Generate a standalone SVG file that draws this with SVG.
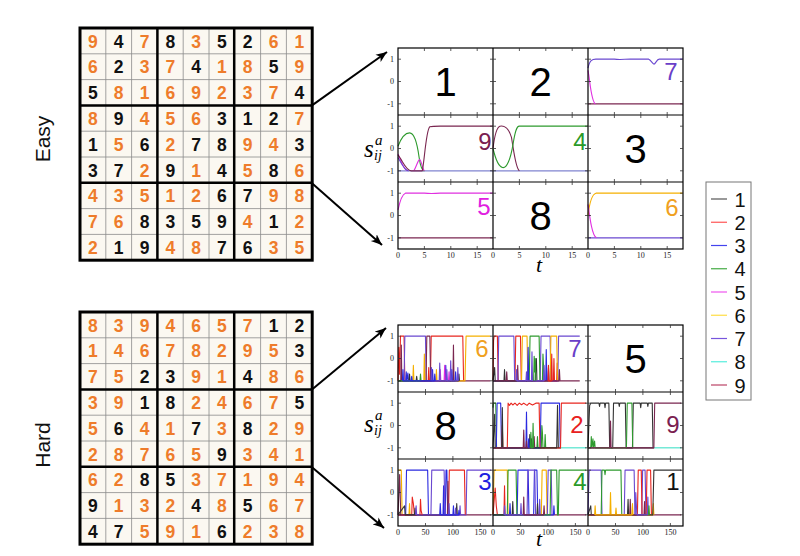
<svg xmlns="http://www.w3.org/2000/svg" width="800" height="556" viewBox="0 0 800 556">
<style>
.d{font-family:"Liberation Sans",Arial,sans-serif;font-weight:bold;font-size:17.5px;text-anchor:middle;fill:#ee7c2b}
.k{fill:#111}
.thin{stroke:#8a8a8a;stroke-width:0.8;fill:none}
.thick{stroke:#000;stroke-width:2.5;fill:none}
.side{font-family:"Liberation Sans",Arial,sans-serif;font-size:21px;text-anchor:middle;fill:#111}
.fr{fill:none;stroke:#000;stroke-width:1.2}
.tk{fill:none;stroke:#333;stroke-width:0.8}
.tl{font-family:"Liberation Serif","Times New Roman",serif;font-size:8px;fill:#222}
.ty{text-anchor:end}
.tx{text-anchor:middle}
.tr path{fill:none;stroke-width:1.1;vector-effect:non-scaling-stroke;stroke-linejoin:round}
.c1{stroke:#333}.c2{stroke:#e8261f}.c3{stroke:#2a2ae0}.c4{stroke:#2e9a2e}.c5{stroke:#e030e0}.c6{stroke:#f5b000}.c7{stroke:#6a48d0}.c8{stroke:#40e0c8}.c9{stroke:#7a2650}.cb{stroke:#8084d0}
.big{font-family:"Liberation Sans",Arial,sans-serif;font-size:40px;text-anchor:middle;fill:#000}
.lb{font-family:"Liberation Sans",Arial,sans-serif;font-size:24px;text-anchor:middle}
.ax{font-family:"Liberation Serif","Times New Roman",serif;font-style:italic;fill:#000}
.lg{font-family:"Liberation Sans",Arial,sans-serif;font-size:20px;fill:#111}
.ll{stroke-width:1.2}
</style>
<defs>
<marker id="ah" markerUnits="userSpaceOnUse" markerWidth="12" markerHeight="10" refX="11" refY="5" orient="auto"><path d="M0,0.5 L11,5 L0,9.5 L3,5 z" fill="#000"/></marker>
<g id="sg">
<rect x="80" y="0" width="232.2" height="232.2" fill="#fbf8f1"/>
<path class="thin" d="M105.8,0V232.2M131.6,0V232.2M183.2,0V232.2M209,0V232.2M260.6,0V232.2M286.4,0V232.2M80,25.8H312.2M80,51.6H312.2M80,103.2H312.2M80,129H312.2M80,180.6H312.2M80,206.4H312.2"/>
<path class="thick" d="M157.4,0V232.2M234.2,0V232.2M80,77.4H312.2M80,154.8H312.2"/>
<rect x="80" y="0" width="232.2" height="232.2" fill="none" stroke="#000" stroke-width="3"/>
</g>
</defs>
<rect width="800" height="556" fill="#fff"/>

<text class="side" transform="translate(50,139) rotate(-90)">Easy</text>
<text class="side" transform="translate(50,445) rotate(-90)">Hard</text>

<g id="easy-sudoku">
<use href="#sg" y="28"/>
<g class="d">
<text x="92.9 118.7 144.5 170.3 196.1 221.9 247.7 273.5 299.3" y="47.6">9<tspan class="k">4</tspan>7<tspan class="k">8</tspan>3<tspan class="k">5</tspan><tspan class="k">2</tspan>61</text>
<text x="92.9 118.7 144.5 170.3 196.1 221.9 247.7 273.5 299.3" y="73.4">6<tspan class="k">2</tspan>37<tspan class="k">4</tspan>18<tspan class="k">5</tspan>9</text>
<text x="92.9 118.7 144.5 170.3 196.1 221.9 247.7 273.5 299.3" y="99.2"><tspan class="k">5</tspan>8169237<tspan class="k">4</tspan></text>
<text x="92.9 118.7 144.5 170.3 196.1 221.9 247.7 273.5 299.3" y="125">8<tspan class="k">9</tspan>456<tspan class="k">3</tspan><tspan class="k">1</tspan><tspan class="k">2</tspan>7</text>
<text x="92.9 118.7 144.5 170.3 196.1 221.9 247.7 273.5 299.3" y="150.8"><tspan class="k">1</tspan>5<tspan class="k">6</tspan>2<tspan class="k">7</tspan><tspan class="k">8</tspan>94<tspan class="k">3</tspan></text>
<text x="92.9 118.7 144.5 170.3 196.1 221.9 247.7 273.5 299.3" y="176.6"><tspan class="k">3</tspan><tspan class="k">7</tspan>2<tspan class="k">9</tspan>1<tspan class="k">4</tspan>5<tspan class="k">8</tspan>6</text>
<text x="92.9 118.7 144.5 170.3 196.1 221.9 247.7 273.5 299.3" y="202.4">43512<tspan class="k">6</tspan><tspan class="k">7</tspan>98</text>
<text x="92.9 118.7 144.5 170.3 196.1 221.9 247.7 273.5 299.3" y="228.2">76<tspan class="k">8</tspan><tspan class="k">3</tspan><tspan class="k">5</tspan><tspan class="k">9</tspan>4<tspan class="k">1</tspan>2</text>
<text x="92.9 118.7 144.5 170.3 196.1 221.9 247.7 273.5 299.3" y="254">2<tspan class="k">1</tspan><tspan class="k">9</tspan>48<tspan class="k">7</tspan><tspan class="k">6</tspan>35</text>
</g>
</g>

<g id="hard-sudoku">
<use href="#sg" y="312"/>
<g class="d">
<text x="92.9 118.7 144.5 170.3 196.1 221.9 247.7 273.5 299.3" y="331.6">8394657<tspan class="k">1</tspan><tspan class="k">2</tspan></text>
<text x="92.9 118.7 144.5 170.3 196.1 221.9 247.7 273.5 299.3" y="357.4">14678295<tspan class="k">3</tspan></text>
<text x="92.9 118.7 144.5 170.3 196.1 221.9 247.7 273.5 299.3" y="383.2">75<tspan class="k">2</tspan><tspan class="k">3</tspan>91<tspan class="k">4</tspan>86</text>
<text x="92.9 118.7 144.5 170.3 196.1 221.9 247.7 273.5 299.3" y="409">39<tspan class="k">1</tspan><tspan class="k">8</tspan>2467<tspan class="k">5</tspan></text>
<text x="92.9 118.7 144.5 170.3 196.1 221.9 247.7 273.5 299.3" y="434.8">5<tspan class="k">6</tspan>41<tspan class="k">7</tspan>3<tspan class="k">8</tspan>29</text>
<text x="92.9 118.7 144.5 170.3 196.1 221.9 247.7 273.5 299.3" y="460.6">28765<tspan class="k">9</tspan>341</text>
<text x="92.9 118.7 144.5 170.3 196.1 221.9 247.7 273.5 299.3" y="486.4">62<tspan class="k">8</tspan><tspan class="k">5</tspan>37194</text>
<text x="92.9 118.7 144.5 170.3 196.1 221.9 247.7 273.5 299.3" y="512.2"><tspan class="k">9</tspan>132<tspan class="k">4</tspan>8<tspan class="k">5</tspan>67</text>
<text x="92.9 118.7 144.5 170.3 196.1 221.9 247.7 273.5 299.3" y="538"><tspan class="k">4</tspan><tspan class="k">7</tspan>591<tspan class="k">6</tspan>238</text>
</g>
</g>

<g id="easy-plots">
<g class="tr">
<g transform="translate(588,81.5) scale(5.278,-22.33)">
<path class="c9" d="M0,-1 L18,-1"/>
<path class="c7" d="M0,0.6 C0.3,0.95 0.8,1 1.5,1 L5,1 C6,0.97 7,1 8,1 L11.5,1 C12,0.95 12.2,0.78 12.5,0.78 C12.8,0.78 13,1 13.5,1 L18,1"/>
<path class="c5" d="M0,0.5 C0.4,0 0.6,-0.9 1.4,-1"/>
</g>
<g transform="translate(398,148.5) scale(5.278,-22.33)">
<path class="cb" d="M0,-1 L18,-1"/>
<path class="c4" d="M0,0.1 C0.8,0.6 1.5,0.7 2.2,0.7 C3,0.7 3.6,0.3 4,-0.4 C4.3,-0.9 4.6,-1 5,-1"/>
<path class="c5" d="M0,-0.25 C0.5,-0.5 1,-0.95 1.8,-1 M3,-1 C3.5,-0.8 3.8,-0.5 4.1,-0.5 C4.4,-0.5 4.6,-0.9 5,-1"/>
<path class="c7" d="M0,-0.4 C0.5,-0.6 1.2,-1 2,-1"/>
<path class="c9" d="M0,-0.3 C0.8,-0.5 1.5,-1 2.5,-1 L4.6,-1 C5,-0.6 5.3,0.8 6,0.97 C6.5,1 7,1 8,1 L18,1"/>
</g>
<g transform="translate(493,148.5) scale(5.278,-22.33)">
<path class="cb" d="M0,-1 L18,-1"/>
<path class="c9" d="M0,0 C0.3,0.6 0.7,0.95 1.3,1 C2.3,1.05 3,0.9 3.5,0.5 C4,-0.2 4.3,-0.9 5,-1"/>
<path class="c4" d="M0,0 C0.5,-0.5 1,-0.8 1.8,-0.85 C2.6,-0.9 3.3,-0.5 3.8,0.2 C4.2,0.8 4.5,1 5,1 L18,1"/>
</g>
<g transform="translate(398,215.5) scale(5.278,-22.33)">
<path class="c9" d="M0,-1 L18,-1"/>
<path class="c5" d="M0,0.25 C0.4,0.7 0.8,0.95 1.4,1 L5,1 C6,0.97 7,0.98 8,1 L18,1"/>
</g>
<g transform="translate(588,215.5) scale(5.278,-22.33)">
<path class="c7" d="M0,-1 L18,-1"/>
<path class="c6" d="M0,0 C0.3,0.6 0.7,0.95 1.5,1 L18,1"/>
<path class="c5" d="M0,0.5 C0.4,-0.2 0.8,-0.9 1.6,-1"/>
</g>
</g>
<rect class="fr" x="398" y="48" width="285" height="201"/>
<path class="fr" d="M493,48V249M588,48V249M398,115H683M398,182H683"/>
<path class="tk" d="M424.4,48v3M424.4,112v6M424.4,179v6M424.4,246v3M450.8,48v3M450.8,112v6M450.8,179v6M450.8,246v3M477.2,48v3M477.2,112v6M477.2,179v6M477.2,246v3M519.4,48v3M519.4,112v6M519.4,179v6M519.4,246v3M545.8,48v3M545.8,112v6M545.8,179v6M545.8,246v3M572.2,48v3M572.2,112v6M572.2,179v6M572.2,246v3M614.4,48v3M614.4,112v6M614.4,179v6M614.4,246v3M640.8,48v3M640.8,112v6M640.8,179v6M640.8,246v3M667.2,48v3M667.2,112v6M667.2,179v6M667.2,246v3
M398,59.2h3M490,59.2h6M585,59.2h6M680,59.2h3M398,81.5h3M490,81.5h6M585,81.5h6M680,81.5h3M398,103.8h3M490,103.8h6M585,103.8h6M680,103.8h3M398,126.2h3M490,126.2h6M585,126.2h6M680,126.2h3M398,148.5h3M490,148.5h6M585,148.5h6M680,148.5h3M398,170.8h3M490,170.8h6M585,170.8h6M680,170.8h3M398,193.2h3M490,193.2h6M585,193.2h6M680,193.2h3M398,215.5h3M490,215.5h6M585,215.5h6M680,215.5h3M398,237.8h3M490,237.8h6M585,237.8h6M680,237.8h3"/>
<g class="tl ty">
<text x="394" y="62">1</text><text x="394" y="84.3">0</text><text x="394" y="106.6">-1</text>
<text x="394" y="129">1</text><text x="394" y="151.3">0</text><text x="394" y="173.6">-1</text>
<text x="394" y="196">1</text><text x="394" y="218.3">0</text><text x="394" y="240.6">-1</text>
</g>
<g class="tl tx">
<text x="398" y="257.5">0</text><text x="424.4" y="257.5">5</text><text x="450.8" y="257.5">10</text><text x="477.2" y="257.5">15</text>
<text x="493" y="257.5">0</text><text x="519.4" y="257.5">5</text><text x="545.8" y="257.5">10</text><text x="572.2" y="257.5">15</text>
<text x="588" y="257.5">0</text><text x="614.4" y="257.5">5</text><text x="640.8" y="257.5">10</text><text x="667.2" y="257.5">15</text>
</g>
<text class="big" x="445.5" y="95.8">1</text>
<text class="big" x="540.5" y="95.8">2</text>
<text class="big" x="635.5" y="162.8">3</text>
<text class="big" x="540.5" y="229.8">8</text>
<text class="lb" x="671" y="80" fill="#6a3fc8">7</text>
<text class="lb" x="485" y="150" fill="#7a2050">9</text>
<text class="lb" x="580" y="150" fill="#2a9a2a">4</text>
<text class="lb" x="484" y="215" fill="#e020e0">5</text>
<text class="lb" x="672" y="216" fill="#f0a020">6</text>
<text class="ax" x="364" y="157" font-size="25">s</text>
<text class="ax" x="375" y="145" font-size="15">a</text>
<text class="ax" x="374" y="160" font-size="14">ij</text>
<text class="ax" x="536" y="272" font-size="22">t</text>
</g>

<g id="hard-plots">
<g class="tr">
<g transform="translate(398,358.5) scale(0.549,-22.33)">
<path class="c9" d="M0,-1 L168,-1"/>
<path class="c2" d="M0,-1 L1.5,0.5 L3,-0.7 L4.5,1 L11,1 L12.5,-1 L55,-1 L56,-0.4 L57,-1 L59,-1 L60.5,1 L118,1 L119.5,-1"/>
<path class="c7" d="M0,-1 L11,-1 L12.5,1 L50,1 L51.5,-1"/>
<path class="c9" d="M0,-1 L5,-1 L6,0.6 L7,-1 L51,-1 L52.5,1 L58,1 L59.5,-1 L100,-1 L101,0.6 L102,-1"/>
<path class="c6" d="M0,-1 L27,-1 L28,-0.3 L29,-1 L47,-1 L48,0.2 L49,-1 L69,-1 L70,-0.5 L71,-1 L122,-1 L124,1 L168,1"/>
<path class="c3" d="M0,-1 L14,-1 L15,-0.6 L16,-1 L18,-0.65 L19,-1 L62,-1 L63,-0.5 L64,-1 L86,-1 L87,-0.3 L88,-1 L97,-1 L98,-0.5 L99,-1 L104,-1 L105,-0.6 L106,-1"/>
<path class="c5" d="M0,-1 L76,-1 L77,-0.5 L78,-1 L84,-1 L85,-0.3 L86,-1 L92,-1 L93,-0.6 L94,-1"/>
<path class="c1" d="M0,-1 L20,-1 L21,-0.7 L22,-1 L33,-1 L34,-0.8 L35,-1 L110,-1 L111,-0.7 L112,-1"/>
<path class="c4" d="M0,-1 L40,-1 L41,-0.7 L42,-1"/>
<path class="c7" d="M60,-1 L61,-0.4 L62,-1 L75,-1 L76,-0.2 L77,-1 L88,-1 L89,-0.5 L90,-1 L95,-1 L96,-0.1 L97,-1 L108,-1 L109,-0.4 L110,-1"/>
<path class="c3" d="M8,-1 L9,-0.5 L10,-1 L24,-1 L25,-0.8 L26,-1 L66,-1 L67,-0.7 L68,-1"/>
</g>
<g transform="translate(493,358.5) scale(0.549,-22.33)">
<path class="c9" d="M0,-1 L158,-1"/>
<path class="c2" d="M0,-1 L1,0.8 L2,1 L8,1 L9.5,-1 L40,-1 L41.5,1 L50,1 L51.5,-1 L110,-1 L111,0 L112,-1 L116,-1 L117,-0.2 L118,-1"/>
<path class="c7" d="M0,-1 L9,-1 L10.5,1 L38,1 L39.5,-1 L86,-1 L87.5,1 L104,1 L105.5,-1 L118,-1 L119.5,1 L158,1"/>
<path class="c6" d="M0,-1 L52,-1 L53.5,1 L62,1 L63.5,-1 L104,-1 L105.5,1 L116,1 L117.5,-1"/>
<path class="c4" d="M0,-1 L66,-1 L67.5,1 L84,1 L85.5,-1 L90,-1 L91,0.2 L92,-0.3 L93,-1"/>
<path class="c3" d="M0,-1 L63,-1 L64,0.5 L65,-1 L96,-1 L97,0.4 L98,-1 L100,-1 L101,-0.4 L102,-1"/>
<path class="c1" d="M0,-1 L3,-0.4 L4,-1 L20,-1 L21,-0.5 L22,-1 L77,-1 L78,-0.2 L79,0 L80,-1"/>
<path class="c9" d="M0,-1 L24,-1 L25,-0.6 L26,-1 L44,-1 L45,-0.3 L46,-1 L120,-1 L121,-0.5 L122,-1"/>
<path class="c7" d="M42,-1 L43,-0.5 L44,-1 L60,-1 L61,-0.6 L62,-1 L70,-1 L71,0.3 L72,-1 L92,-1 L93,-0.3 L94,-1"/>
<path class="c2" d="M100,-1 L101,-0.3 L102,-1 L106,-1 L107,0.2 L108,-1"/>
<path class="c4" d="M74,-1 L75,0.1 L76,-0.6 L77,0 L78,-1"/>
</g>
<g transform="translate(493,425.5) scale(0.549,-22.33)">
<path class="c1" d="M0,-1 L124,-1"/>
<path class="c8" d="M124,-1 L170,-1"/>
<path class="c4" d="M0,0.8 L0.5,1 L5,1 L6.5,-1 L80,-1 L81,-0.5 L82,-1 L88,-1 L89,0 L90,-0.3 L91,-1 L94,-1 L95,-0.4 L96,-1"/>
<path class="c3" d="M0,-1 L6,-1 L7.5,1 L14,1 L15.5,-1 L60,-1 L61,0.6 L62,-1 L86,-1 L87.5,1 L121,1 L122.5,-1"/>
<path class="c2" d="M0,-1 L16,-1 L17,0 L18,-1 L26,-1 L27.5,1 L30,0.9 L33,1 L36,0.92 L40,1 L44,0.9 L48,1 L52,0.93 L56,1 L62,0.9 L66,1 L72,0.92 L78,1 L84,1 L85.5,-1 L123,-1 L124.5,1 L170,1"/>
<path class="c1" d="M0,-1 L3,0.5 L4,-1 L16,-1 L17,0.8 L18,-1 L66,-1 L67,-0.4 L68,-1 L70,-0.6 L71,-1 L116,-1 L117.5,0.9 L119,-1"/>
<path class="c9" d="M0,-1 L55,-1 L56,-0.2 L57,-1 L74,-1 L75,-0.5 L76,-1"/>
<path class="c3" d="M64,-1 L65,-0.6 L66,-1"/>
<path class="c4" d="M68,-1 L69,-0.3 L70,-1 L72,-1 L73,0.1 L74,-1"/>
<path class="c9" d="M60,-1 L61,-0.7 L62,-1"/>
</g>
<g transform="translate(588,425.5) scale(0.549,-22.33)">
<path class="c1" d="M0,-1 L120,-1"/>
<path class="c8" d="M120,-1 L170,-1"/>
<path class="c1" d="M0,-1 L3,0.9 L5,1 L20,1 L21,0.85 L22,1 L30,1 L31,0.8 L32,1 L38,1 L39.5,-1 L45,-1 L46.5,1 L56,1 L57,0.85 L58,1 L68,1 L69.5,-1 L81,-1 L82.5,1 L95,1 L96,0.8 L97,1 L108,1 L109,0.85 L110,1 L117,1 L118.5,-1"/>
<path class="c4" d="M0,-1 L5,-1 L6,-0.5 L7,-1 L9,-0.6 L10,-1 L12,-0.7 L13,-1 L70,-1 L71.5,1 L80,1 L81.5,-1"/>
<path class="c9" d="M0,-1 L40,-1 L41,0.2 L42,-1 L120,-1 L121.5,1 L170,1"/>
</g>
<g transform="translate(398,492.5) scale(0.549,-22.33)">
<path class="c9" d="M0,-1 L170,-1"/>
<path class="c6" d="M0,1 L6,1 L7.5,-1 L20,-1 L21,-0.5 L22,-1"/>
<path class="c3" d="M0,-1 L14,-1 L15.5,1 L54,1 L55.5,-1 L82,-1 L83,0.3 L84,-1 L86,-1 L87.5,1 L89,1 L90.5,-1 L100,-1 L101,-0.6 L102,-1"/>
<path class="c7" d="M0,-1 L60,-1 L61.5,1 L84,1 L85.5,-1 L124,-1 L125.5,1 L170,1"/>
<path class="c2" d="M0,-1 L25,-1 L26,-0.2 L28,-0.5 L30,-1 L92,-1 L93.5,1 L121,1 L122.5,-1"/>
<path class="c9" d="M0,-1 L3,0.8 L5,-1 L90,-1 L91,0.5 L92,-1"/>
<path class="c1" d="M0,-1 L12,-0.6 L13,-1 L30,-1 L31,-0.7 L32,-1 L106,-1 L107,-0.5 L108,-1"/>
<path class="c7" d="M32,-1 L33,-0.6 L34,-1 L92,-1 L93,-0.5 L94,-1 L104,-1 L105,-0.7 L106,-1 L112,-1 L113,-0.6 L114,-1"/>
<path class="c2" d="M40,-1 L41,-0.3 L42,-0.8 L44,-1"/>
<path class="c3" d="M76,-1 L77,-0.5 L78,-1 L110,-1 L111,-0.8 L112,-1"/>
</g>
<g transform="translate(493,492.5) scale(0.549,-22.33)">
<path class="c9" d="M0,-1 L170,-1"/>
<path class="c6" d="M0,-1 L2,1 L26,1 L27.5,-1 L88,-1 L89.5,1 L97,1 L98.5,-1"/>
<path class="c2" d="M0,-1 L4,0.2 L6,-0.6 L8,-1 L20,-1 L21,0.3 L22,-1"/>
<path class="c3" d="M0,-1 L30,-1 L31,-0.5 L32,-1 L44,-1 L45.5,1 L64,1 L65.5,-1 L74,-1 L75.5,1 L80,1 L81.5,-1 L110,-1 L111,-0.6 L112,-1"/>
<path class="c7" d="M0,-1 L62,-1 L63.5,1 L76,1 L77.5,-1 L99,-1 L100.5,1 L106,1 L107.5,-1"/>
<path class="c4" d="M0,-1 L26,-1 L27.5,1 L42,1 L43.5,-1 L104,-1 L105.5,1 L116,1 L117.5,-1 L119,-1 L120.5,1 L170,1"/>
<path class="c1" d="M0,-1 L35,-1 L36,-0.4 L37,-1 L80,-1 L81,-0.5 L82,-1"/>
<path class="c7" d="M20,-1 L21,-0.6 L22,-1 L50,-1 L51,-0.5 L52,-1 L84,-1 L85,-0.3 L86,-1"/>
<path class="c9" d="M55,-1 L56,-0.2 L57,-1 L92,-1 L93,-0.6 L94,-1"/>
</g>
<g transform="translate(588,492.5) scale(0.549,-22.33)">
<path class="c9" d="M0,-1 L170,-1"/>
<path class="c7" d="M0,-1 L2,1 L24,1 L25.5,-1 L66,-1 L67.5,1 L84,1 L85.5,-1 L98,-1 L99.5,1 L104,1 L105.5,-1"/>
<path class="c4" d="M0,-1 L24,-1 L25.5,1 L30,1 L31,0.8 L32,1 L60,1 L61.5,-1"/>
<path class="c2" d="M0,-1 L90,-1 L91.5,1 L97,1 L98.5,-1 L106,-1 L107.5,1 L114,1 L115.5,-1"/>
<path class="c6" d="M0,-1 L40,-1 L41,0 L42,-1 L50,-1 L51,-0.7 L52,-1 L118,-1 L119,-0.5 L120,-1"/>
<path class="c1" d="M0,-1 L5,-0.6 L6,-1 L72,-1 L73,-0.3 L74,-1 L118,-1 L120,1 L170,1"/>
<path class="c9" d="M0,-1 L76,-1 L77,-0.3 L78,-1 L102,-1 L103,-0.4 L104,-1"/>
<path class="c7" d="M86,-1 L87,0 L88,-0.5 L89,-1 L108,-1 L109,-0.2 L110,-1"/>
<path class="c6" d="M12,-1 L13,-0.6 L14,-1 L80,-1 L81,-0.5 L82,-1"/>
<path class="c4" d="M110,-1 L111,-0.6 L112,-1"/>
</g>
</g>
<rect class="fr" x="398" y="325" width="285" height="201"/>
<path class="fr" d="M493,325V526M588,325V526M398,392H683M398,459H683"/>
<path class="tk" d="M425.5,325v3M425.5,389v6M425.5,456v6M425.5,523v3M452.9,325v3M452.9,389v6M452.9,456v6M452.9,523v3M480.4,325v3M480.4,389v6M480.4,456v6M480.4,523v3M520.5,325v3M520.5,389v6M520.5,456v6M520.5,523v3M547.9,325v3M547.9,389v6M547.9,456v6M547.9,523v3M575.4,325v3M575.4,389v6M575.4,456v6M575.4,523v3M615.5,325v3M615.5,389v6M615.5,456v6M615.5,523v3M642.9,325v3M642.9,389v6M642.9,456v6M642.9,523v3M670.4,325v3M670.4,389v6M670.4,456v6M670.4,523v3
M398,336.2h3M490,336.2h6M585,336.2h6M680,336.2h3M398,358.5h3M490,358.5h6M585,358.5h6M680,358.5h3M398,380.8h3M490,380.8h6M585,380.8h6M680,380.8h3M398,403.2h3M490,403.2h6M585,403.2h6M680,403.2h3M398,425.5h3M490,425.5h6M585,425.5h6M680,425.5h3M398,447.8h3M490,447.8h6M585,447.8h6M680,447.8h3M398,470.2h3M490,470.2h6M585,470.2h6M680,470.2h3M398,492.5h3M490,492.5h6M585,492.5h6M680,492.5h3M398,514.8h3M490,514.8h6M585,514.8h6M680,514.8h3"/>
<g class="tl ty">
<text x="394" y="339">1</text><text x="394" y="361.3">0</text><text x="394" y="383.6">-1</text>
<text x="394" y="406">1</text><text x="394" y="428.3">0</text><text x="394" y="450.6">-1</text>
<text x="394" y="473">1</text><text x="394" y="495.3">0</text><text x="394" y="517.6">-1</text>
</g>
<g class="tl tx">
<text x="398" y="534.5">0</text><text x="425.5" y="534.5">50</text><text x="452.9" y="534.5">100</text><text x="480.4" y="534.5">150</text>
<text x="493" y="534.5">0</text><text x="520.5" y="534.5">50</text><text x="547.9" y="534.5">100</text><text x="575.4" y="534.5">150</text>
<text x="588" y="534.5">0</text><text x="615.5" y="534.5">50</text><text x="642.9" y="534.5">100</text><text x="670.4" y="534.5">150</text>
</g>
<text class="big" x="635.5" y="372.8">5</text>
<text class="big" x="445.5" y="439.8">8</text>
<text class="lb" x="482" y="357" fill="#f0a020">6</text>
<text class="lb" x="575" y="357" fill="#6a3fc8">7</text>
<text class="lb" x="577" y="433" fill="#e82020">2</text>
<text class="lb" x="673" y="433" fill="#7a2050">9</text>
<text class="lb" x="485" y="490" fill="#2020e0">3</text>
<text class="lb" x="580" y="490" fill="#2a9a2a">4</text>
<text class="lb" x="673" y="490" fill="#111">1</text>
<text class="ax" x="364" y="432" font-size="25">s</text>
<text class="ax" x="375" y="420" font-size="15">a</text>
<text class="ax" x="374" y="435" font-size="14">ij</text>
<text class="ax" x="536" y="546" font-size="22">t</text>
</g>

<g id="legend">
<rect x="706" y="182" width="45" height="218" fill="#fff" stroke="#777" stroke-width="1"/>
<path class="ll" stroke="#555" d="M711,199H727"/>
<path class="ll" stroke="#f55" d="M711,222.25H727"/>
<path class="ll" stroke="#44e" d="M711,245.5H727"/>
<path class="ll" stroke="#4a4" d="M711,268.75H727"/>
<path class="ll" stroke="#e5e" d="M711,292H727"/>
<path class="ll" stroke="#fd4" d="M711,315.25H727"/>
<path class="ll" stroke="#75d" d="M711,338.5H727"/>
<path class="ll" stroke="#5ed" d="M711,361.75H727"/>
<path class="ll" stroke="#b46" d="M711,385H727"/>
<text class="lg" x="734.5" y="206.5">1</text>
<text class="lg" x="734.5" y="229.75">2</text>
<text class="lg" x="734.5" y="253">3</text>
<text class="lg" x="734.5" y="276.25">4</text>
<text class="lg" x="734.5" y="299.5">5</text>
<text class="lg" x="734.5" y="322.75">6</text>
<text class="lg" x="734.5" y="346">7</text>
<text class="lg" x="734.5" y="369.25">8</text>
<text class="lg" x="734.5" y="392.5">9</text>
</g>

<g id="connectors" stroke="#000" stroke-width="2" fill="none" marker-end="url(#ah)">
<line x1="312" y1="105.4" x2="387" y2="52"/>
<line x1="312" y1="183.2" x2="382" y2="245"/>
<line x1="312" y1="389.4" x2="386" y2="328"/>
<line x1="312" y1="467.2" x2="384" y2="528"/>
</g>
</svg>
